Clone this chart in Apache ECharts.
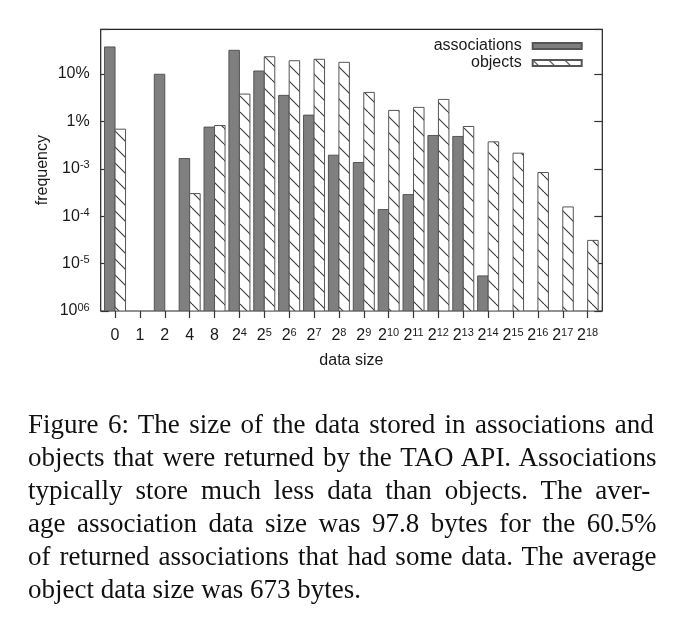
<!DOCTYPE html>
<html>
<head>
<meta charset="utf-8">
<script src="https://cdn.jsdelivr.net/npm/echarts@6/dist/echarts.min.js"></script>
<style>
html,body{margin:0;padding:0;background:#fff;}
#chart{position:absolute;left:0;top:0;width:690px;height:619px;}
#caption{position:absolute;left:28px;top:407.6px;width:628.5px;font-family:'Liberation Serif','Times New Roman',serif;font-size:27px;line-height:33.14px;color:#111;}
#caption div{white-space:nowrap;}
</style>
</head>
<body>
<div id="chart"></div>
<div id="caption"></div>
<script>
// ---- data ----
const categories = ['0','1','2','4','8','2^4','2^5','2^6','2^7','2^8','2^9','2^10','2^11','2^12','2^13','2^14','2^15','2^16','2^17','2^18'];
const associations = [0.373, null, 0.099, 0.00165, 0.0076, 0.317, 0.116, 0.0355, 0.0136, 0.00194, 0.00136, 0.000138, 0.000286, 0.00506, 0.00482, 0.0000055, null, null, null, null];
const objects = [0.00687, null, null, 0.0003, 0.0082, 0.0378, 0.232, 0.191, 0.205, 0.177, 0.041, 0.0171, 0.0198, 0.0292, 0.00783, 0.00371, 0.00214, 0.000836, 0.000157, 0.0000309];
const seriesNames = ['associations', 'objects'];
const yTickExps = [-6, -5, -4, -3, -2, -1];
const yTickBase = ['10', '10', '10', '10', '1%', '10%'];
const yTickSup = ['06', '-5', '-4', '-3', '', ''];
const yMin = 1e-6, yMax = 0.88;
const xName = 'data size', yName = 'frequency';
const captionLines = [
  'Figure 6:  The size of the data stored in associations and',
  'objects that were returned by the TAO API. Associations',
  'typically store much less data than objects.  The aver-',
  'age association data size was 97.8 bytes for the 60.5%',
  'of returned associations that had some data. The average',
  'object data size was 673 bytes.'
];

// ---- caption (justified lines) ----
const cap = document.getElementById('caption');
const capWidth = 628.5;
captionLines.forEach((t, i) => {
  const d = document.createElement('div');
  const s = document.createElement('span');
  s.textContent = t;
  d.appendChild(s);
  cap.appendChild(d);
  if (i < captionLines.length - 1) {
    const w = s.getBoundingClientRect().width;
    const spaces = (t.match(/ /g) || []).length;
    if (spaces > 0) s.style.wordSpacing = ((capWidth - w) / spaces) + 'px';
  }
});

// ---- chart ----
const FONT = "'Liberation Sans', Arial, Helvetica, sans-serif";
const TXT = '#1a1a1a';
const BAR_W = 10.5;
const rich = {
  b: {fontSize: 16, fontFamily: FONT, color: TXT, lineHeight: 18},
  s: {fontSize: 11, fontFamily: FONT, color: TXT, lineHeight: 11, verticalAlign: 'top'}
};
function yLabel(v) {
  const e = Math.log10(v);
  const r = Math.round(e);
  if (Math.abs(e - r) > 1e-6) return '';
  const i = yTickExps.indexOf(r);
  if (i < 0) return '';
  return yTickSup[i] ? '{b|' + yTickBase[i] + '}{s|' + yTickSup[i] + '}' : '{b|' + yTickBase[i] + '}';
}
function xLabel(c) {
  const p = String(c).split('^');
  return p.length > 1 ? '{b|' + p[0] + '}{s|' + p[1] + '}' : '{b|' + c + '}';
}
function makeHatch() {
  const s = 16;
  const c = document.createElement('canvas');
  c.width = s; c.height = s;
  const g = c.getContext('2d');
  g.fillStyle = '#fff'; g.fillRect(0, 0, s, s);
  g.strokeStyle = '#3a3a3a'; g.lineWidth = 1.1;
  for (let k = -1; k <= 1; k++) {
    g.beginPath(); g.moveTo(k * s, 0); g.lineTo(k * s + s, s); g.stroke();
  }
  return c;
}
const hatchFill = {image: makeHatch(), repeat: 'repeat'};
const tickStyle = {color: '#333', width: 1.2};

function barRenderer(side) {
  return function (params, api) {
    const v = api.value(1);
    if (v == null || isNaN(v) || v <= 0) return;
    const top = api.coord([api.value(0), v]);
    const base = api.coord([api.value(0), yMin]);
    const x = side < 0 ? top[0] - BAR_W : top[0];
    return {
      type: 'rect',
      shape: {x: x, y: top[1], width: BAR_W, height: base[1] - top[1]},
      style: api.style()
    };
  };
}

const chart = echarts.init(document.getElementById('chart'), null, {renderer: 'canvas'});
chart.setOption({
  animation: false,
  backgroundColor: '#fff',
  legend: {
    orient: 'vertical', right: 107.3, top: 38, padding: 0,
    align: 'right', itemWidth: 49, itemHeight: 6, itemGap: 1,
    icon: 'rect',
    textStyle: {fontFamily: FONT, fontSize: 16, color: TXT, padding: [0, 6, 0, 0]},
    data: seriesNames
  },
  grid: [
    {left: 100.7, right: 87.7, top: 29.3, bottom: 308, show: true, borderColor: '#222', borderWidth: 1.2, backgroundColor: 'transparent', outerBoundsMode: 'none'},
    {left: 102.6, right: 89.9, top: 29.3, bottom: 308, outerBoundsMode: 'none'}
  ],
  xAxis: [
    {gridIndex: 0, type: 'value', show: false, min: 0, max: 1},
    {
      gridIndex: 1, type: 'category', data: categories, boundaryGap: true,
      axisLine: {show: false},
      axisTick: {show: true, alignWithLabel: true, length: 7, inside: false, lineStyle: tickStyle},
      axisLabel: {interval: 0, margin: 16, formatter: xLabel, rich: rich},
      splitLine: {show: false},
      name: xName, nameLocation: 'middle', nameGap: 42, nameMoveOverlap: false,
      nameTextStyle: {fontFamily: FONT, fontSize: 16, color: TXT}
    }
  ],
  yAxis: [
    {
      gridIndex: 0, type: 'log', logBase: 10, min: yMin, max: yMax, position: 'left',
      axisLine: {show: false},
      axisTick: {show: true, inside: true, length: 8, lineStyle: tickStyle},
      axisLabel: {formatter: yLabel, rich: rich, margin: 11},
      splitLine: {show: false}, minorTick: {show: false},
      name: yName, nameLocation: 'middle', nameGap: 50, nameRotate: 90, nameMoveOverlap: false,
      nameTextStyle: {fontFamily: FONT, fontSize: 16, color: TXT}
    },
    {gridIndex: 1, type: 'log', logBase: 10, min: yMin, max: yMax, show: false, splitLine: {show: false}},
    {
      gridIndex: 0, type: 'log', logBase: 10, min: yMin, max: yMax, position: 'right',
      axisLine: {show: false},
      axisTick: {show: true, inside: true, length: 8, lineStyle: tickStyle},
      axisLabel: {show: false}, splitLine: {show: false}
    }
  ],
  series: [
    {
      name: seriesNames[0], type: 'custom', xAxisIndex: 1, yAxisIndex: 1, clip: true,
      renderItem: barRenderer(-1),
      encode: {x: 0, y: 1},
      data: associations.map((v, i) => [categories[i], v]),
      itemStyle: {color: '#7f7f7f', borderColor: '#555', borderWidth: 1}
    },
    {
      name: seriesNames[1], type: 'custom', xAxisIndex: 1, yAxisIndex: 1, clip: true,
      renderItem: barRenderer(1),
      encode: {x: 0, y: 1},
      data: objects.map((v, i) => [categories[i], v]),
      itemStyle: {color: hatchFill, borderColor: '#555', borderWidth: 1}
    }
  ]
});
</script>
</body>
</html>
